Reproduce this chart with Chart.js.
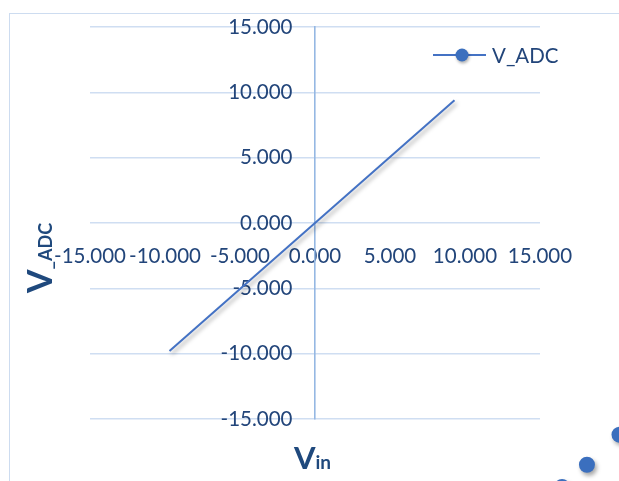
<!DOCTYPE html>
<html>
<head>
<meta charset="utf-8">
<script src="https://cdn.jsdelivr.net/npm/chart.js@4/dist/chart.umd.min.js"></script>
<style>
  html, body { margin: 0; padding: 0; background: #ffffff; overflow: hidden; }
  #wrap { position: relative; width: 619px; height: 481px; overflow: hidden; }
  #frame { position: absolute; left: 9px; top: 13px; width: 700px; height: 600px;
           border-left: 1.5px solid #cddcf0; border-top: 1.5px solid #cddcf0; }
  #c { position: absolute; left: 0; top: 0; }
</style>
</head>
<body>
<div id="wrap">
  <div id="frame"></div>
  <canvas id="c" width="619" height="481"></canvas>
</div>
<script>
// Transfer characteristic: ADC reading against input voltage
const vIn   = [-9.7, 0.0, 9.3];
const vAdc  = [-9.8, 0.0, 9.4];

// Markers of the neighbouring series that spill into the lower-right corner
const sideX = [20.3, 18.13, 16.47];
const sideY = [-16.2, -18.5, -20.2];

const axisTicks = [-15, -10, -5, 0, 5, 10, 15];

const seriesName = 'V_ADC';
const textColor  = '#22457a';
const titleColor = '#1f497d';
const lineColor  = '#4472c4';
const markColor  = '#3b6fbe';

const toPoints = (xs, ys) => xs.map((x, i) => ({ x: x, y: ys[i] }));

// soft drop shadow under the drawn series, as in the spreadsheet style
const shadowPlugin = {
  id: 'shadow',
  beforeDatasetDraw(chart) {
    const ctx = chart.ctx;
    ctx.save();
    ctx.shadowColor = 'rgba(0,0,0,0.35)';
    ctx.shadowBlur = 4;
    ctx.shadowOffsetX = 2;
    ctx.shadowOffsetY = 3;
  },
  afterDatasetDraw(chart) {
    chart.ctx.restore();
  }
};

// The corner markers lie outside the plot area, where Chart.js skips points;
// paint them at the pixel positions the library computed for them.
const outsidePointsPlugin = {
  id: 'outsidePoints',
  afterDatasetsDraw(chart) {
    const meta = chart.getDatasetMeta(1);
    const ds = chart.data.datasets[1];
    const ctx = chart.ctx;
    ctx.save();
    ctx.shadowColor = 'rgba(0,0,0,0.35)';
    ctx.shadowBlur = 4;
    ctx.shadowOffsetX = 2;
    ctx.shadowOffsetY = 3;
    ctx.fillStyle = ds.pointBackgroundColor;
    meta.data.forEach(pt => {
      ctx.beginPath();
      ctx.arc(pt.x, pt.y, ds.pointRadius, 0, Math.PI * 2);
      ctx.fill();
    });
    ctx.restore();
  }
};

// axis titles with subscripts, and the line+marker legend entry
const decorPlugin = {
  id: 'decor',
  afterDraw(chart) {
    const ctx = chart.ctx;
    const ds = chart.data.datasets[0];

    // y title: V with subscript _ADC, rotated
    ctx.save();
    ctx.fillStyle = titleColor;
    ctx.textBaseline = 'alphabetic';
    ctx.textAlign = 'left';
    ctx.translate(52, 293);
    ctx.rotate(-Math.PI / 2);
    ctx.font = 'bold 34px Lato';
    ctx.fillText('V', 0, 0);
    const wv = ctx.measureText('V').width;
    ctx.font = 'bold 18px Lato';
    ctx.fillText('_ADC', wv, 0);
    ctx.restore();

    // x title: V with subscript in
    ctx.save();
    ctx.fillStyle = titleColor;
    ctx.textBaseline = 'alphabetic';
    ctx.textAlign = 'left';
    ctx.font = 'bold 31px Lato';
    ctx.fillText('V', 294, 469);
    const wx = ctx.measureText('V').width;
    ctx.font = 'bold 19px Lato';
    ctx.fillText('in', 294 + wx, 469);
    ctx.restore();

    // legend entry
    ctx.save();
    ctx.strokeStyle = ds.borderColor;
    ctx.lineWidth = 2;
    ctx.beginPath();
    ctx.moveTo(433, 55);
    ctx.lineTo(486, 55);
    ctx.stroke();
    ctx.shadowColor = 'rgba(0,0,0,0.3)';
    ctx.shadowBlur = 3;
    ctx.shadowOffsetX = 1;
    ctx.shadowOffsetY = 2;
    ctx.fillStyle = markColor;
    ctx.beginPath();
    ctx.arc(462, 55, 6.5, 0, Math.PI * 2);
    ctx.fill();
    ctx.restore();

    ctx.save();
    ctx.fillStyle = textColor;
    ctx.font = '20.5px Lato';
    ctx.textBaseline = 'middle';
    ctx.textAlign = 'left';
    ctx.fillText(ds.label, 492, 56);
    ctx.restore();
  }
};

const fmt = v => Number(v).toFixed(3);

new Chart(document.getElementById('c'), {
  type: 'scatter',
  data: {
    datasets: [
      {
        label: seriesName,
        data: toPoints(vIn, vAdc),
        showLine: true,
        borderColor: lineColor,
        borderWidth: 2,
        pointRadius: 0,
        pointHoverRadius: 0,
        xAxisID: 'x',
        yAxisID: 'y'
      },
      {
        label: '',
        data: toPoints(sideX, sideY),
        showLine: false,
        pointRadius: 8,
        pointBackgroundColor: markColor,
        pointBorderColor: markColor,
        pointBorderWidth: 0,
        clip: false,
        xAxisID: 'x',
        yAxisID: 'y'
      }
    ]
  },
  options: {
    responsive: false,
    devicePixelRatio: 1,
    animation: false,
    layout: { padding: { left: 90, right: 79, top: 27, bottom: 62 } },
    plugins: {
      legend: { display: false },
      tooltip: { enabled: false }
    },
    scales: {
      x: {
        type: 'linear',
        position: { y: 0 },
        min: axisTicks[0],
        max: axisTicks[axisTicks.length - 1],
        afterBuildTicks: s => { s.ticks = axisTicks.map(v => ({ value: v })); },
        grid: { display: false, drawTicks: false },
        border: { display: false },
        ticks: {
          padding: 21,
          maxRotation: 0,
          autoSkip: false,
          color: textColor,
          font: { family: 'Lato', size: 20.5 },
          callback: fmt
        }
      },
      y: {
        type: 'linear',
        position: { x: 0 },
        min: axisTicks[0],
        max: axisTicks[axisTicks.length - 1],
        afterBuildTicks: s => { s.ticks = axisTicks.map(v => ({ value: v })); },
        grid: { color: '#cfdef2', lineWidth: 1.6, drawTicks: false },
        border: { display: true, color: '#95b8e3', width: 1.6 },
        ticks: { display: false }
      },
      yLabels: {
        type: 'linear',
        axis: 'y',
        position: { x: -1.5 },
        min: axisTicks[0],
        max: axisTicks[axisTicks.length - 1],
        afterBuildTicks: s => { s.ticks = axisTicks.map(v => ({ value: v })); },
        grid: { display: false, drawTicks: false },
        border: { display: false },
        ticks: {
          color: textColor,
          font: { family: 'Lato', size: 20.5 },
          callback: fmt
        }
      }
    }
  },
  plugins: [shadowPlugin, outsidePointsPlugin, decorPlugin]
});
</script>
</body>
</html>
